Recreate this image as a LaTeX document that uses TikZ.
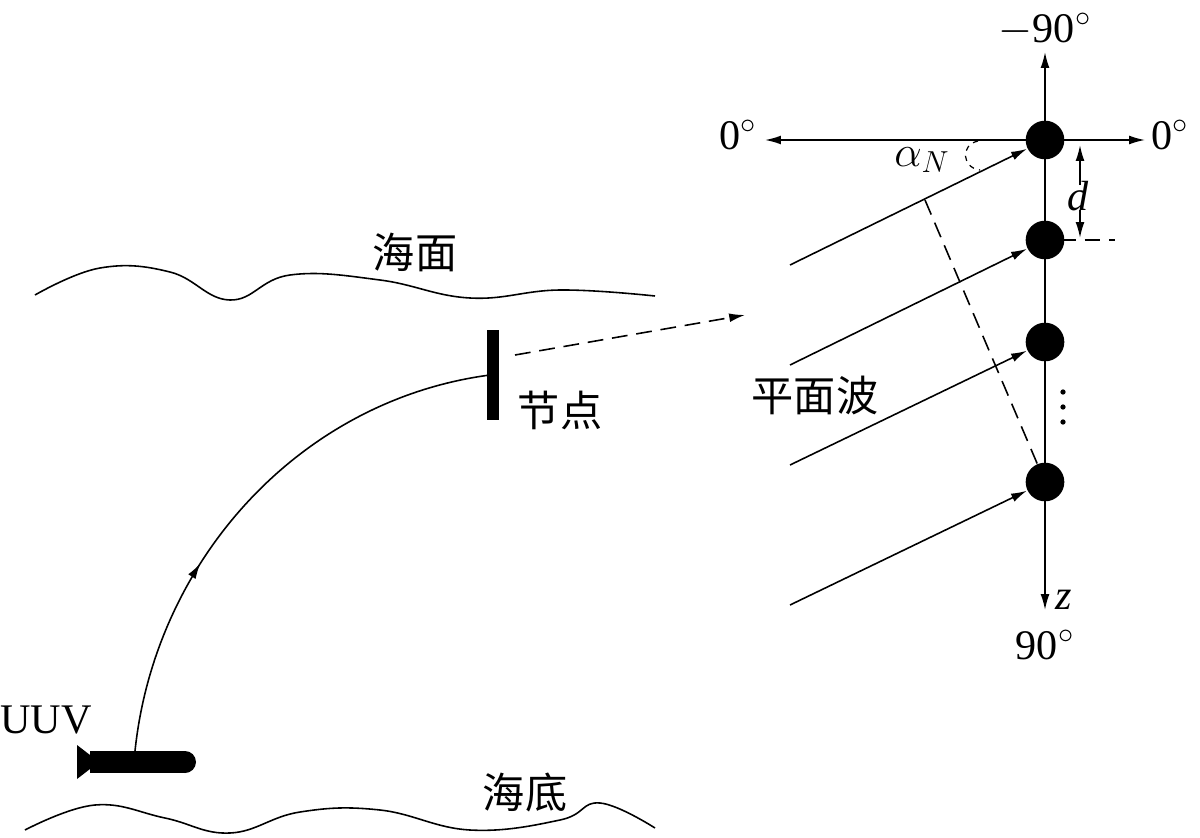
\documentclass[tikz,border=0pt]{standalone}
\usepackage{fontspec}
\setmainfont{Liberation Serif}
\newfontfamily\cjk{Noto Sans CJK SC}
\usetikzlibrary{arrows.meta,decorations.markings}

\begin{document}
\begin{tikzpicture}[x=0.02cm,y=-0.02cm,>={Latex[length=9pt,width=5pt]},line width=0.9pt]
	\tikzstyle{lettre}=[font=\fontsize{24}{26}\selectfont]
	\tikzstyle{hanzi}=[font=\cjk\fontsize{24}{26}\selectfont]
	\tikzstyle{capteur}=[circle,fill=black,inner sep=0pt,minimum size=22pt]
	\tikzstyle{point}=[circle,fill=black,inner sep=0pt,minimum size=3pt]
	\tikzstyle{tirets}=[dash pattern=on 9pt off 5pt]
	\useasboundingbox (0,0) rectangle (1200,838);
	% axes
	\coordinate (haut) at (1045,52);
	\coordinate (bas) at (1045,610);
	\coordinate (gauche) at (765,140);
	\coordinate (droite) at (1145,140);
	\draw[<->] (haut) -- (bas);
	\draw[<->] (gauche) -- (droite);
	\node[lettre] (moins) at (1045,30){$-$90$^\circ$};
	\node[lettre] (plus) at (1045,645){90$^\circ$};
	\node[lettre] (z) at (1064,600){\textit{z}};
	\node[lettre] (zg) at (738,135){0$^\circ$};
	\node[lettre] (zd) at (1170,135){0$^\circ$};
	% capteurs
	\node[capteur] (A) at (1045,140){};
	\node[capteur] (B) at (1045,240){};
	\node[capteur] (C) at (1045,342){};
	\node[capteur] (D) at (1045,482){};
	\foreach \y in {392,407,422} \node[point] (p\y) at (1063,\y){};
	% ondes
	\coordinate (a) at (790,265);
	\coordinate (b) at (790,365);
	\coordinate (c) at (790,465);
	\coordinate (e) at (790,605);
	\draw[->] (a) -- (A);
	\draw[->] (b) -- (B);
	\draw[->] (c) -- (C);
	\draw[->] (e) -- (D);
	\draw[tirets] (925,200) -- (D);
	\draw[dashed,line width=0.7pt] (978,141) .. controls (960,145) and (962,168) .. (980,170);
	\node[lettre] (alpha) at (922,160){$\alpha_{N}$};
	\node[hanzi] (onde) at (815,395){平面波};
	% d
	\draw[tirets] (1060,240) -- (1115,240);
	\draw[->] (1080,185) -- (1080,145);
	\draw[->] (1080,210) -- (1080,238);
	\node[lettre] (d) at (1078,196){\textit{d}};
	% mer
	\draw plot[smooth,tension=0.7] coordinates {(35,295) (100,268) (170,272) (230,300) (290,275) (380,280) (470,298) (560,290) (655,296)};
	\node[hanzi] (surface) at (415,252){海面};
	\draw plot[smooth,tension=0.7] coordinates {(25,830) (95,805) (165,818) (230,833) (300,812) (380,810) (470,830) (560,820) (600,803) (655,828)};
	\node[hanzi] (fond) at (525,792){海底};
	% noeud
	\draw[line width=7pt] (493,330) -- (493,420);
	\coordinate (N) at (490,375);
	\node[hanzi] (noeud) at (560,410){节点};
	\draw[tirets,->] (515,355) -- (745,315);
	% UUV
	\fill (90,751) rectangle (185,773);
	\fill (185,762) circle (11);
	\fill (77,745) -- (90,755) -- (90,769) -- (77,779) -- cycle;
	\coordinate (U) at (135,751);
	\node[lettre] (uuv) at (46,720){UUV};
	\draw[decoration={markings,mark=at position 0.36 with {\arrow{>}}},postaction={decorate}]
		(U) .. controls (155,560) and (300,400) .. (N);
\end{tikzpicture}
\end{document}
